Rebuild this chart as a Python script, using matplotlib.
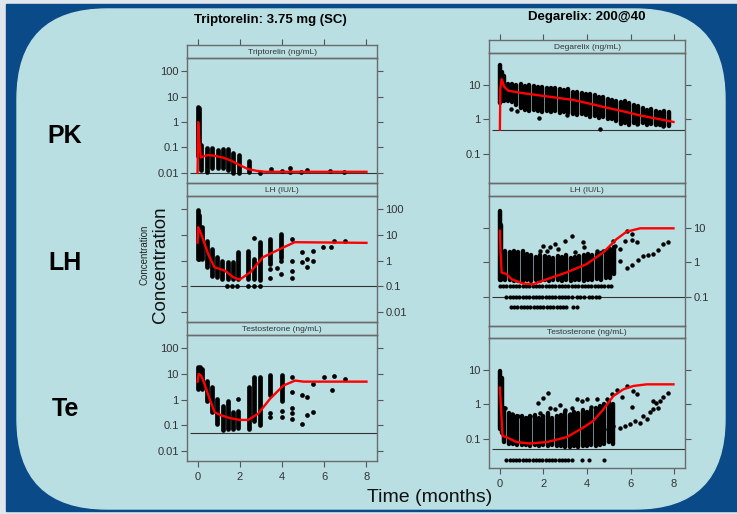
import matplotlib
matplotlib.use("Agg")
import matplotlib.pyplot as plt
from matplotlib.patches import Rectangle, FancyBboxPatch
from matplotlib.ticker import NullLocator

plt.rcParams['font.family'] = ['Liberation Sans', 'DejaVu Sans']

# ==========================
# DATA
# ==========================

# --- Triptorelin 3.75 mg (SC) ---
tri_pk_col_t = [0.0, 0.07, 0.18, 0.44, 0.70, 0.97, 1.20, 1.45, 1.70, 1.97, 2.44]
tri_pk_col_lo = [0.045, 0.05, 0.013, 0.011, 0.015, 0.015, 0.015, 0.013, 0.0097, 0.0097, 0.011]
tri_pk_col_hi = [4.0, 3.5, 0.125, 0.095, 0.095, 0.08, 0.085, 0.09, 0.06, 0.051, 0.028]
tri_pk_pt_t = [2.95, 3.46, 3.98, 4.37, 4.37, 4.92, 5.20, 6.27, 6.95]
tri_pk_pt_v = [0.010, 0.014, 0.012, 0.016, 0.011, 0.011, 0.013, 0.012, 0.011]
tri_pk_fit_t = [0, 0.03, 0.08, 0.15, 0.3, 0.5, 0.8, 1.2, 1.6, 2.0, 2.4, 2.8, 3.2, 4, 8]
tri_pk_fit_v = [0.01, 1.0, 0.2, 0.04, 0.045, 0.05, 0.047, 0.04, 0.03, 0.02, 0.014, 0.012, 0.011, 0.011, 0.011]

tri_lh_col_t = [0.0, 0.08, 0.22, 0.46, 0.70, 0.94, 1.17, 1.44, 1.68, 1.92, 2.40, 2.67, 2.95, 3.43, 3.94]
tri_lh_col_lo = [1.1, 1.2, 1.2, 0.55, 0.26, 0.22, 0.19, 0.19, 0.19, 0.19, 0.19, 0.19, 0.17, 0.75, 1.3]
tri_lh_col_hi = [95, 60, 20, 6, 2.8, 1.35, 1.0, 0.86, 0.86, 2.1, 2.4, 1.2, 5.2, 7, 11]
tri_lh_pt_t = [1.41, 1.65, 1.87, 2.40, 2.67, 2.95, 2.67, 3.43, 3.43, 3.75, 3.94, 3.94,
               4.46, 4.46, 4.46, 4.46, 4.94, 4.94, 5.17, 5.17, 5.46, 5.46, 5.94, 6.30, 6.48, 6.97]
tri_lh_pt_v = [0.1, 0.1, 0.1, 0.1, 0.1, 0.1, 7.6, 0.45, 0.2, 0.52, 1.0, 0.3,
               7.0, 1.0, 0.4, 0.2, 2.1, 0.86, 1.16, 0.58, 2.45, 1.0, 3.3, 3.5, 5.7, 5.7]
tri_lh_fit_t = [0, 0.03, 0.17, 0.5, 0.8, 1.3, 1.7, 2.0, 2.5, 3.1, 3.9, 4.6, 8]
tri_lh_fit_v = [5, 20, 11, 1.8, 0.55, 0.4, 0.22, 0.18, 0.35, 1.35, 2.8, 5.2, 4.9]

tri_te_col_t = [0.0, 0.1, 0.2, 0.46, 0.70, 0.94, 1.20, 1.44, 1.68, 1.92, 2.44, 2.67, 2.95, 3.43, 3.98]
tri_te_col_lo = [2.6, 3.0, 2.5, 0.9, 0.32, 0.11, 0.062, 0.07, 0.07, 0.08, 0.07, 0.15, 0.1, 1.5, 0.9]
tri_te_col_hi = [18, 18, 15, 5.5, 3.0, 1.06, 0.58, 0.9, 0.32, 0.35, 3.0, 7.4, 7.4, 9, 9]
tri_te_pt_t = [1.92, 3.43, 3.43, 3.98, 3.98, 4.46, 4.46, 4.46, 4.46, 4.46, 4.94, 4.94,
               5.20, 5.20, 5.46, 5.46, 5.97, 6.37, 6.48, 6.97]
tri_te_pt_v = [1.06, 0.3, 0.2, 0.35, 0.2, 7.4, 1.9, 0.47, 0.29, 0.17, 1.56, 0.11,
               1.3, 0.25, 4.1, 0.34, 7.4, 2.4, 8.1, 6.4]
tri_te_fit_t = [0, 0.05, 0.17, 0.33, 0.57, 0.81, 1.13, 1.52, 2.0, 2.4, 2.87, 3.43, 4.06, 4.62, 5.02, 8]
tri_te_fit_v = [5, 10, 8.6, 4, 1.06, 0.32, 0.24, 0.19, 0.16, 0.16, 0.28, 1.06, 3.5, 5.5, 5, 5]

# --- Degarelix 200@40 ---
deg_pk_col_t = [0.0, 0.1, 0.2, 0.35, 0.55, 0.75, 0.95, 1.15, 1.35, 1.55, 1.75, 1.95, 2.15,
                2.35, 2.55, 2.75, 2.95, 3.15, 3.35, 3.55, 3.75, 3.95, 4.15, 4.35, 4.55,
                4.75, 4.95, 5.15, 5.35, 5.55, 5.75, 5.95, 6.15, 6.35, 6.55, 6.75, 6.95,
                7.15, 7.35, 7.55, 7.75]
deg_pk_col_lo = [3.0, 3.5, 3.5, 3.5, 3.2, 2.6, 2.2, 1.9, 1.8, 1.9, 1.7, 1.6, 1.8,
                 1.6, 1.7, 1.5, 1.6, 1.5, 1.4, 1.3, 1.4, 1.3, 1.2, 1.25, 1.1,
                 1.2, 1.0, 1.0, 0.9, 0.75, 0.8, 0.7, 0.8, 0.75, 0.8, 0.7, 0.75,
                 0.7, 0.7, 0.65, 0.65]
deg_pk_col_hi = [40, 25, 18, 11, 10.5, 10, 10.5, 9.5, 10, 9.5, 9, 9, 8.5,
                 8, 8, 7.5, 7, 7.5, 6.5, 6.5, 6, 5.5, 5.5, 5, 4.5,
                 4.5, 4, 3.8, 3.5, 3.3, 3.5, 3.0, 2.6, 2.4, 2.2, 1.9, 2.0,
                 1.7, 1.6, 1.7, 1.6]
deg_pk_pt_t = [0.5, 0.8, 1.8, 3.1, 4.6, 6.3, 7.5]
deg_pk_pt_v = [1.95, 1.8, 1.12, 1.35, 0.51, 0.72, 0.62]
deg_pk_fit_t = [0.0, 0.02, 0.08, 0.2, 0.38, 1.0, 1.84, 2.6, 3.37, 4.1, 4.9, 5.7, 6.44, 7.2, 7.97]
deg_pk_fit_v = [0.5, 8, 15, 9, 6.9, 5.9, 5.0, 4.3, 3.7, 2.9, 2.2, 1.7, 1.3, 1.05, 0.84]

deg_lh_col_t = [0.0, 0.06, 0.25, 0.45, 0.65, 0.85, 1.05, 1.25, 1.45, 1.65, 1.85, 2.05, 2.25,
                2.45, 2.65, 2.85, 3.05, 3.25, 3.45, 3.65, 3.85, 4.05, 4.25, 4.45, 4.65,
                4.85, 5.05, 5.25]
deg_lh_col_lo = [0.3, 0.3, 0.3, 0.3, 0.28, 0.28, 0.28, 0.3, 0.28, 0.3, 0.28, 0.3, 0.28,
                 0.3, 0.3, 0.28, 0.3, 0.28, 0.3, 0.3, 0.28, 0.3, 0.3, 0.32, 0.3,
                 0.35, 0.35, 0.45]
deg_lh_col_hi = [31, 12, 2.2, 2.0, 2.2, 2.0, 2.2, 1.8, 1.6, 1.4, 1.6, 1.5, 1.4,
                 1.3, 1.5, 1.4, 1.6, 1.3, 1.4, 1.5, 1.6, 1.8, 1.6, 1.8, 1.9,
                 2.2, 2.5, 2.8]
deg_lh_pt_t = [1.84, 1.99, 2.15, 2.3, 2.53, 2.68, 2.99, 3.3, 3.45, 3.8, 3.86, 4.44, 4.75,
               5.21, 5.29, 5.52, 5.52, 5.75, 5.82, 5.82, 6.05, 6.05, 6.05, 6.28, 6.36,
               6.59, 6.82, 7.05, 7.28, 7.51, 7.74]
deg_lh_pt_v = [2.2, 3.1, 2.2, 2.75, 3.45, 2.45, 4.3, 5.8, 1.96, 4.0, 2.75, 2.2, 2.2,
               4.3, 3.1, 2.45, 1.12, 4.3, 8.4, 0.67, 6.7, 4.6, 0.84, 3.85, 1.2,
               1.5, 1.64, 1.75, 2.35, 3.45, 4.0]
deg_lh_blq1_t = [0.0, 0.15, 0.3, 0.45, 0.6, 0.75, 0.9, 1.05, 1.2, 1.35, 1.5, 1.65, 1.8, 1.95,
                 2.1, 2.25, 2.4, 2.55, 2.7, 2.85, 3.0, 3.15, 3.3, 3.45, 3.6, 3.75, 3.9,
                 4.05, 4.2, 4.35, 4.5, 4.65, 4.8, 4.95, 5.1]
deg_lh_blq2_t = [0.3, 0.45, 0.6, 0.75, 0.9, 1.05, 1.2, 1.35, 1.5, 1.65, 1.8, 1.95, 2.1, 2.25,
                 2.4, 2.55, 2.7, 2.85, 3.0, 3.15, 3.3, 3.55, 3.7, 3.85, 4.1, 4.25, 4.4, 4.55]
deg_lh_blq3_t = [0.5, 0.65, 0.8, 0.95, 1.1, 1.25, 1.4, 1.55, 1.7, 1.85, 2.0, 2.15, 2.3, 2.45,
                 2.6, 2.75, 2.9, 3.05, 3.35, 3.55]
deg_lh_blq_v = [0.21, 0.1, 0.051]
deg_lh_fit_t = [0.0, 0.03, 0.08, 0.3, 0.54, 1.07, 1.53, 2.15, 3.07, 3.98, 4.75, 5.36, 5.82, 6.44, 7.97]
deg_lh_fit_v = [8.4, 2, 0.5, 0.46, 0.32, 0.24, 0.23, 0.32, 0.51, 0.89, 1.96, 4.8, 7.9, 9.9, 9.9]

deg_te_col_t = [0.0, 0.08, 0.2, 0.4, 0.6, 0.8, 1.0, 1.2, 1.4, 1.6, 1.8, 2.0, 2.2, 2.4, 2.6,
                2.8, 3.0, 3.2, 3.4, 3.6, 3.8, 4.0, 4.2, 4.4, 4.6, 4.8, 5.0, 5.2]
deg_te_col_lo = [0.19, 0.15, 0.08, 0.07, 0.07, 0.065, 0.065, 0.065, 0.06, 0.065, 0.06, 0.065,
                 0.06, 0.065, 0.06, 0.06, 0.055, 0.055, 0.06, 0.055, 0.06, 0.06, 0.065,
                 0.06, 0.065, 0.07, 0.08, 0.07]
deg_te_col_hi = [9.5, 6, 0.8, 0.55, 0.5, 0.45, 0.45, 0.4, 0.45, 0.5, 0.4, 0.45, 0.55, 0.4,
                 0.45, 0.5, 0.6, 0.5, 0.6, 0.55, 0.7, 0.6, 0.7, 0.8, 0.9, 1.0, 1.2, 1.0]
deg_te_pt_t = [0.23, 0.54, 0.84, 1.26, 1.56, 1.76, 1.99, 2.22, 1.84, 2.3, 2.53, 2.76, 2.99,
               3.22, 3.3, 3.52, 3.75, 3.98, 4.2, 4.44, 4.6, 4.9, 5.13, 5.36, 5.59, 5.82,
               6.05, 6.13, 6.28, 4.98, 5.21, 5.52, 5.75, 5.98, 6.21, 6.44, 6.59, 6.74,
               6.87, 7.05, 7.17, 7.36, 7.51, 7.74, 7.05, 7.28]
deg_te_pt_v = [0.8, 0.51, 0.46, 0.41, 0.46, 1.12, 1.57, 2.1, 0.57, 0.8, 0.71, 0.93, 0.68,
               0.51, 0.8, 1.4, 1.25, 1.4, 0.85, 1.46, 0.51, 1.4, 1.96, 2.6, 1.68, 3.4,
               0.85, 2.45, 1.96, 0.19, 0.24, 0.21, 0.23, 0.26, 0.33, 0.29, 0.46, 0.38,
               0.6, 0.71, 1.12, 1.25, 1.68, 2.1, 1.25, 0.8]
deg_te_blq_t = [0.3, 0.45, 0.6, 0.75, 0.9, 1.05, 1.2, 1.35, 1.5, 1.65, 1.8, 1.95, 2.1, 2.25,
                2.4, 2.55, 2.7, 2.85, 3.0, 3.15, 3.3, 3.75, 4.1, 4.8]
deg_te_blq_v = 0.023
deg_te_fit_t = [0.0, 0.12, 0.3, 0.77, 1.38, 2.15, 3.07, 3.83, 4.29, 4.75, 5.21, 5.67, 6.13, 6.74, 7.97]
deg_te_fit_v = [3.1, 0.12, 0.11, 0.079, 0.072, 0.079, 0.11, 0.21, 0.33, 0.71, 1.75, 2.75, 3.45, 3.85, 3.85]

# ==========================
# FIGURE + BACKGROUND
# ==========================

W, H = 737, 514
fig = plt.figure(figsize=(W / 100, H / 100), dpi=100)
fig.patch.set_facecolor('#dfe6ec')

bg = fig.add_axes([0, 0, 1, 1])
bg.set_xlim(0, W)
bg.set_ylim(H, 0)
bg.axis('off')
bg.add_patch(Rectangle((6, 4), 731, 507, color='#0b4a88'))
bg.add_patch(FancyBboxPatch((17, 9), 708, 500,
                            boxstyle='round,pad=0,rounding_size=90',
                            color='#b9dfe3'))

bg.text(270, 20, 'Triptorelin: 3.75 mg (SC)', ha='center', va='center',
        fontsize=9.5, fontweight='bold')
bg.text(587, 17, 'Degarelix: 200@40', ha='center', va='center',
        fontsize=9.5, fontweight='bold')
for lab, yy in [('PK', 136), ('LH', 263), ('Te', 409)]:
    bg.text(65, yy, lab, ha='center', va='center', fontsize=18, fontweight='bold')
bg.text(145, 255, 'Concentration', rotation=90, ha='center', va='center',
        fontsize=7, color='#222')
bg.text(161, 265, 'Concentration', rotation=90, ha='center', va='center',
        fontsize=13.5, color='#111')
bg.text(430, 497, 'Time (months)', ha='center', va='center', fontsize=14, color='#111')


def px_axes(x0, y0, x1, y1):
    return fig.add_axes([x0 / W, 1 - y1 / H, (x1 - x0) / W, (y1 - y0) / H])


def frame(ax):
    for s in ax.spines.values():
        s.set_color('#6b6b6b')
        s.set_linewidth(1)


def strip(x0, y0, x1, y1, title, top_ticks):
    sax = px_axes(x0, y0, x1, y1)
    sax.set_facecolor('none')
    sax.set_xlim(-0.5, 8.5)
    sax.set_ylim(0, 1)
    sax.set_yticks([])
    if top_ticks:
        sax.set_xticks([0, 2, 4, 6, 8])
        sax.tick_params(axis='x', top=True, bottom=False, labeltop=False,
                        labelbottom=False, direction='out', length=4,
                        width=0.8, color='#555')
    else:
        sax.set_xticks([])
    frame(sax)
    sax.text(4, 0.45, title, ha='center', va='center', fontsize=6, color='#333')


def panel(box, ylim, yticks, ylabels, side, xlabels, lloq, size,
          col_t, col_lo, col_hi, pt_t, pt_v, fit_t, fit_v):
    ax = px_axes(*box)
    ax.set_facecolor('none')
    ax.set_xlim(-0.5, 8.5)
    ax.set_yscale('log')
    ax.set_ylim(*ylim)
    ax.yaxis.set_minor_locator(NullLocator())
    ax.set_yticks(yticks)
    ax.set_yticklabels(ylabels)
    ax.tick_params(axis='y', which='both', left=True, right=True,
                   labelleft=(side == 'left'), labelright=(side == 'right'),
                   direction='out', length=4, width=0.8, color='#555',
                   labelsize=8, labelcolor='#333', pad=2)
    if xlabels:
        ax.set_xticks([0, 2, 4, 6, 8])
        ax.tick_params(axis='x', bottom=True, top=False, direction='out',
                       length=4, width=0.8, color='#555', labelsize=8,
                       labelcolor='#333', pad=4)
    else:
        ax.set_xticks([])
    frame(ax)

    ax.hlines(lloq, -0.35, 8.5, color='#333', linewidth=0.8)
    ax.vlines(col_t, col_lo, col_hi, color='black', linewidth=size,
              capstyle='round')
    ax.plot(pt_t, pt_v, 'o', color='black', markersize=size,
            markeredgewidth=0)
    ax.plot(fit_t, fit_v, color='#ff0000', linewidth=1.7, zorder=5)
    return ax


# ==========================
# LEFT COLUMN: TRIPTORELIN
# ==========================

lx0, lx1 = 187, 377
ylim_l = (10 ** -2.4, 10 ** 2.52)
tk_l = [0.01, 0.1, 1, 10, 100]
tl_l = ['0.01', '0.1', '1', '10', '100']

strip(lx0, 45, lx1, 58, 'Triptorelin (ng/mL)', True)
panel((lx0, 58, lx1, 183), ylim_l, tk_l, tl_l, 'left', False, 0.01, 3.4,
      tri_pk_col_t, tri_pk_col_lo, tri_pk_col_hi, tri_pk_pt_t, tri_pk_pt_v,
      tri_pk_fit_t, tri_pk_fit_v)

strip(lx0, 183, lx1, 196, 'LH (IU/L)', False)
panel((lx0, 196, lx1, 322), ylim_l, tk_l, tl_l, 'right', False, 0.1, 3.4,
      tri_lh_col_t, tri_lh_col_lo, tri_lh_col_hi, tri_lh_pt_t, tri_lh_pt_v,
      tri_lh_fit_t, tri_lh_fit_v)

strip(lx0, 322, lx1, 335, 'Testosterone (ng/mL)', False)
panel((lx0, 335, lx1, 461), ylim_l, tk_l, tl_l, 'left', True, 0.05, 3.4,
      tri_te_col_t, tri_te_col_lo, tri_te_col_hi, tri_te_pt_t, tri_te_pt_v,
      tri_te_fit_t, tri_te_fit_v)

# ==========================
# RIGHT COLUMN: DEGARELIX
# ==========================

rx0, rx1 = 489, 685
ylim_r = (10 ** -1.86, 10 ** 1.94)
tk_r = [0.1, 1, 10]
tl_r = ['0.1', '1', '10']

strip(rx0, 40, rx1, 53, 'Degarelix (ng/mL)', True)
panel((rx0, 53, rx1, 183), ylim_r, tk_r, tl_r, 'left', False, 0.5, 3.2,
      deg_pk_col_t, deg_pk_col_lo, deg_pk_col_hi, deg_pk_pt_t, deg_pk_pt_v,
      deg_pk_fit_t, deg_pk_fit_v)

strip(rx0, 183, rx1, 196, 'LH (IU/L)', False)
ax_lh = panel((rx0, 196, rx1, 326), ylim_r, tk_r, tl_r, 'right', False, 0.1, 3.2,
              deg_lh_col_t, deg_lh_col_lo, deg_lh_col_hi, deg_lh_pt_t, deg_lh_pt_v,
              deg_lh_fit_t, deg_lh_fit_v)
for row_t, row_v in zip([deg_lh_blq1_t, deg_lh_blq2_t, deg_lh_blq3_t], deg_lh_blq_v):
    ax_lh.plot(row_t, [row_v] * len(row_t), 'o', color='black', markersize=3.0,
               markeredgewidth=0)

strip(rx0, 326, rx1, 338, 'Testosterone (ng/mL)', False)
ax_te = panel((rx0, 338, rx1, 468), ylim_r, tk_r, tl_r, 'left', True, 0.05, 3.2,
              deg_te_col_t, deg_te_col_lo, deg_te_col_hi, deg_te_pt_t, deg_te_pt_v,
              deg_te_fit_t, deg_te_fit_v)
ax_te.plot(deg_te_blq_t, [deg_te_blq_v] * len(deg_te_blq_t), 'o', color='black',
           markersize=3.0, markeredgewidth=0)

fig.savefig('out.png', dpi=100, facecolor=fig.get_facecolor())
